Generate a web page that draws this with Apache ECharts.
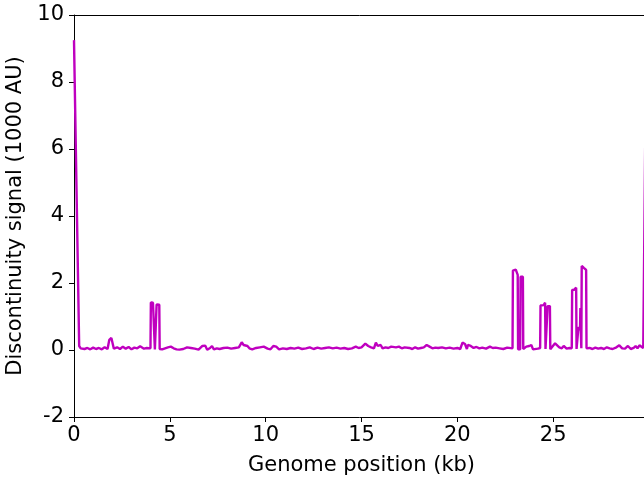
<!DOCTYPE html>
<html>
<head>
<meta charset="utf-8">
<script src="https://cdn.jsdelivr.net/npm/echarts@6/dist/echarts.min.js"></script>
<style>html,body{margin:0;padding:0;background:#fff}#c{width:644px;height:478px}</style>
</head>
<body>
<div id="c"></div>
<script>
// Genome position (kb)
const positions = [
0,0.27,0.35,0.45,0.55,0.7,0.85,1.0,1.15,1.3,1.45,1.6,1.75,
1.84,1.95,2.03,2.08,
2.25,2.4,2.55,2.7,2.85,3.0,3.15,3.3,3.45,3.55,3.65,3.8,3.99,
4.01,4.12,4.2,4.22,4.3,4.31,4.45,4.47,
4.6,4.75,4.9,5.05,5.2,5.35,5.5,5.7,5.9,6.1,6.3,6.5,6.7,6.85,6.95,7.1,7.2,7.3,7.45,7.6,7.8,8.0,8.2,8.4,8.6,8.75,8.85,8.95,9.05,9.15,9.3,9.5,9.7,9.9,
10.1,10.25,10.4,10.55,10.7,10.9,11.1,11.3,11.5,11.7,11.9,12.1,12.3,12.5,12.7,12.9,13.1,13.3,13.5,13.7,13.9,14.1,14.3,14.5,14.7,14.85,
15.0,15.2,15.35,15.5,15.65,15.75,15.85,16.0,16.1,16.25,16.4,16.55,16.65,16.8,16.95,17.1,17.25,17.35,17.5,17.65,17.8,17.95,18.1,18.25,18.4,18.55,18.7,18.85,19.0,19.2,19.4,19.6,19.8,
20.0,20.15,20.27,20.4,20.5,20.55,20.7,20.85,21.0,21.15,21.3,21.5,21.7,21.85,22.0,22.2,22.4,22.6,22.88,
22.9,23.05,23.15,23.17,23.28,23.3,23.42,23.44,
23.6,23.75,23.86,23.95,24.05,24.2,24.32,
24.34,24.5,24.58,24.6,24.69,24.71,24.83,24.85,
24.95,25.1,25.2,25.32,25.45,25.55,25.7,25.85,25.97,
25.99,26.1,26.2,26.22,26.3,26.32,26.4,26.42,26.44,26.47,26.49,26.6,26.72,26.74,
26.9,27.05,27.2,27.35,27.5,27.65,27.8,27.95,28.1,28.3,28.45,28.6,28.75,28.9,29.05,29.2,29.3,29.4,29.5,29.6,29.7,29.85
];
// Discontinuity signal (1000 AU)
const signal = [
9.25,0.12,0.05,0.1,0.03,0.06,0.02,0.07,0.03,0.06,0.02,0.08,0.03,
0.3,0.36,0.32,0.04,
0.08,0.03,0.1,0.04,0.09,0.02,0.07,0.05,0.11,0.13,0.04,0.06,0.05,
1.42,1.41,1.36,0.02,0.02,1.36,1.35,0.03,
0.02,0.05,0.08,0.1,0.05,0.02,0.01,0.03,0.08,0.06,0.04,0.01,0.12,0.13,0.01,0.06,0.12,0.02,0.05,0.03,0.06,0.07,0.04,0.06,0.08,0.23,0.15,0.2,0.12,0.05,0.02,0.06,0.08,0.1,
0.04,0.02,0.12,0.1,0.02,0.05,0.03,0.06,0.04,0.07,0.03,0.05,0.08,0.03,0.07,0.04,0.06,0.08,0.05,0.07,0.04,0.06,0.03,0.05,0.1,0.06,
0.08,0.19,0.12,0.08,0.05,0.22,0.12,0.15,0.05,0.08,0.06,0.1,0.15,0.08,0.1,0.05,0.08,0.13,0.06,0.03,0.08,0.04,0.06,0.08,0.15,0.1,0.05,0.07,0.06,0.08,0.05,0.07,0.04,
0.06,0.03,0.22,0.18,0.03,0.15,0.12,0.06,0.09,0.05,0.07,0.04,0.1,0.06,0.07,0.05,0.03,0.07,0.05,
2.37,2.4,2.24,0.02,0.02,2.19,2.19,0.03,
0.1,0.12,0.15,0.02,0.05,0.04,0.06,
1.33,1.34,1.41,0.03,0.03,1.31,1.31,0.02,
0.03,0.2,0.25,0.08,0.05,0.12,0.04,0.06,0.05,
1.79,1.8,1.86,0.03,0.03,0.68,0.6,1.25,0.6,0.05,2.51,2.45,2.39,0.05,
0.06,0.03,0.07,0.04,0.06,0.03,0.08,0.05,0.03,0.08,0.14,0.05,0.04,0.12,0.03,0.06,0.12,0.05,0.14,0.12,0.06,9.0
];
const xTicks = [0,5,10,15,20,25];
const yTicks = [-2,0,2,4,6,8,10];

const font = 'DejaVu Sans';
const fs = 21;
const chart = echarts.init(document.getElementById('c'), null, {renderer:'canvas'});
chart.setOption({
  animation:false,
  backgroundColor:'#fff',
  grid:{left:74, top:15, right:-5, bottom:61, containLabel:false, outerBoundsMode:'none'},
  xAxis:[{
    type:'value', min:0, max:30, interval:5,
    name:'Genome position (kb)', nameLocation:'middle', nameGap:38,
    nameTextStyle:{fontFamily:font, fontSize:fs, color:'#000'},
    axisLine:{onZero:false, lineStyle:{color:'#000', width:1}},
    axisTick:{show:true, length:5, lineStyle:{color:'#000'}},
    axisLabel:{fontFamily:font, fontSize:fs, color:'#000', margin:8,
      formatter:v=> xTicks.includes(v) ? String(v) : ''},
    splitLine:{show:false}
  },{
    type:'value', position:'top', min:0, max:30,
    axisLine:{show:true, onZero:false, lineStyle:{color:'#000', width:1}},
    axisTick:{show:false}, axisLabel:{show:false}, splitLine:{show:false}
  }],
  yAxis:{
    type:'value', min:-2, max:10, interval:2,
    name:'Discontinuity signal (1000 AU)', nameLocation:'middle', nameGap:44,
    nameTextStyle:{fontFamily:font, fontSize:fs, color:'#000'},
    axisLine:{show:true, onZero:false, lineStyle:{color:'#000', width:1}},
    axisTick:{show:true, length:5, lineStyle:{color:'#000'}},
    axisLabel:{fontFamily:font, fontSize:fs, color:'#000', margin:10,
      formatter:v=> yTicks.includes(v) ? String(v) : ''},
    splitLine:{show:false}
  },
  series:[{
    type:'line',
    data:positions.map((x,i)=>[x, signal[i]]),
    showSymbol:false, symbol:'none',
    lineStyle:{color:'#bf00bf', width:2.4},
    clip:true
  }]
});
</script>
</body>
</html>
